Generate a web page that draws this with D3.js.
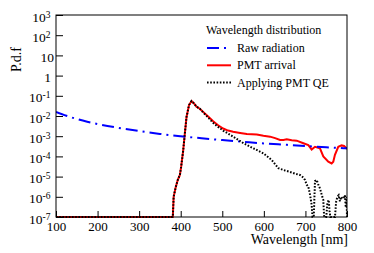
<!DOCTYPE html>
<html>
<head>
<meta charset="utf-8">
<script src="https://cdn.jsdelivr.net/npm/d3@7"></script>
<style>
  body { margin: 0; background: #fff; }
  text { font-family: "Liberation Serif", "Times New Roman", serif; fill: #000; }
</style>
</head>
<body>
<script>
    // x axis
    var xMajor = [100, 200, 300, 400, 500, 600, 700, 800];
    var xMinor = d3.range(100, 801, 20);
    // y axis decades (log10)
    var yExp = [-7, -6, -5, -4, -3, -2, -1, 0, 1, 2, 3];

    // Raw radiation
    var rawWl  = [100, 125, 150, 175, 200, 250, 300, 350, 400, 450, 500, 550, 600, 650, 700, 750, 800];
    var rawVal = [1.6e-2, 1.03e-2, 7.1e-3, 5.2e-3, 4.0e-3, 2.6e-3, 1.8e-3, 1.3e-3, 1.0e-3, 7.9e-4, 6.4e-4, 5.3e-4, 4.4e-4, 3.8e-4, 3.3e-4, 2.8e-4, 2.5e-4];

    // PMT arrival
    var arrWl  = [100, 381, 383, 388, 393, 398, 401, 406, 410, 414, 420, 426, 432, 438, 446, 454, 466, 478, 490, 502, 514, 526, 543, 559, 583, 599, 615, 627, 639, 647, 655, 667, 679, 695, 707, 715, 723, 735, 743, 755, 763, 767, 771, 779, 787, 793, 800];
    var arrVal = [0, 0, 1e-6, 3e-6, 7e-6, 1.2e-5, 3e-5, 2e-4, 1.4e-3, 9e-3, 3.5e-2, 5.5e-2, 4.2e-2, 2.9e-2, 2.3e-2, 1.6e-2, 9.5e-3, 5.5e-3, 3.5e-3, 2.4e-3, 1.9e-3, 1.65e-3, 1.45e-3, 1.3e-3, 1.2e-3, 1.05e-3, 9.5e-4, 8e-4, 6.5e-4, 6.5e-4, 7e-4, 6.3e-4, 6e-4, 4.5e-4, 3.6e-4, 2.2e-4, 3e-4, 2.5e-4, 1e-4, 5.5e-5, 4.5e-5, 5.5e-5, 1.2e-4, 3e-4, 3.5e-4, 3.3e-4, 2.3e-4];

    // Applying PMT QE
    var qeWl  = [100, 381, 383, 388, 393, 398, 401, 406, 410, 414, 420, 426, 432, 438, 446, 454, 466, 478, 490, 502, 514, 526, 551, 575, 599, 619, 635, 651, 663, 675, 687, 695, 699, 703, 707, 711, 715, 717, 720, 723, 727, 731, 735, 739, 743, 745, 750, 753, 756, 758, 760, 771, 774, 777, 780, 783, 786, 789, 792, 795, 797, 799, 800];
    var qeVal = [0, 0, 1e-6, 3e-6, 7e-6, 1.2e-5, 3e-5, 2e-4, 1.4e-3, 9e-3, 3.5e-2, 5.5e-2, 4.2e-2, 2.9e-2, 2.3e-2, 1.5e-2, 8.5e-3, 4.6e-3, 2.9e-3, 1.9e-3, 1.35e-3, 9.5e-4, 4.5e-4, 2.5e-4, 1.4e-4, 6.6e-5, 2.6e-5, 2e-5, 1.7e-5, 1.4e-5, 1.2e-5, 9e-6, 6.8e-6, 4e-6, 3.2e-6, 1.3e-6, 4e-7, 0, 0, 6e-6, 6.8e-6, 4e-6, 2.6e-6, 1.3e-6, 7e-7, 0, 0, 5e-7, 7e-7, 2e-7, 0, 0, 6e-7, 1e-6, 1.2e-6, 6e-7, 1e-6, 8e-7, 9e-7, 1.2e-6, 3e-7, 1e-6, 0];

    var legendNames = ["Raw radiation", "PMT arrival", "Applying PMT QE"];

    function drawChart() {
        var W = 374, H = 253;
        var mLeft = 56, mRight = 347, mTop = 15, mBottom = 217;

        var svg = d3.select("body").append("svg")
            .attr("width", W).attr("height", H);

        var x = d3.scaleLinear().domain([100, 800]).range([mLeft, mRight]);
        var y = d3.scaleLog().domain([1e-7, 1e3]).range([mBottom, mTop]).clamp(true);

        // empty bins sit on the bottom edge
        var yv = function (v) { return y(Math.max(v, 1e-7)); };

        var zip = function (a, b) { return a.map(function (d, i) { return [d, b[i]]; }); };

        svg.append("clipPath").attr("id", "clip")
            .append("rect").attr("x", mLeft).attr("y", mTop - 1)
            .attr("width", mRight - mLeft).attr("height", mBottom - mTop + 2);

        var line = d3.line().x(function (d) { return x(d[0]); }).y(function (d) { return yv(d[1]); });

        var plot = svg.append("g").attr("clip-path", "url(#clip)");

        var styles = [
            { color: "#0000ff", width: 2, dash: "12,5,2,5" },
            { color: "#ff0000", width: 2, dash: null },
            { color: "#000000", width: 2, dash: "1.6,1.6" }
        ];

        plot.append("path").datum(zip(arrWl, arrVal))
            .attr("fill", "none").attr("stroke", styles[1].color).attr("stroke-width", styles[1].width)
            .attr("d", line);
        plot.append("path").datum(zip(rawWl, rawVal))
            .attr("fill", "none").attr("stroke", styles[0].color).attr("stroke-width", styles[0].width)
            .attr("stroke-dasharray", styles[0].dash)
            .attr("d", d3.line().curve(d3.curveMonotoneX).x(function (d) { return x(d[0]); }).y(function (d) { return yv(d[1]); }));
        plot.append("path").datum(zip(qeWl, qeVal))
            .attr("fill", "none").attr("stroke", styles[2].color).attr("stroke-width", styles[2].width)
            .attr("stroke-dasharray", styles[2].dash)
            .attr("d", line);

        // x axis, ticks inside
        var gx = svg.append("g").attr("transform", "translate(0," + mBottom + ")");
        gx.call(d3.axisBottom(x).tickValues(xMinor).tickSize(-3).tickFormat(""));
        gx.call(d3.axisBottom(x).tickValues(xMajor).tickSizeInner(-6).tickSizeOuter(0).tickPadding(4.5).tickFormat(d3.format("d")));
        gx.selectAll("text").attr("font-size", 13).attr("font-family", "Liberation Serif");
        gx.selectAll(".domain").remove();

        // y axis, ticks inside, with superscript labels
        var minorVals = [];
        yExp.forEach(function (e) {
            if (e < 3) for (var k = 2; k <= 9; k++) minorVals.push(k * Math.pow(10, e));
        });
        var gy = svg.append("g").attr("transform", "translate(" + mLeft + ",0)");
        gy.call(d3.axisLeft(y).tickValues(minorVals).tickSize(-4).tickFormat(""));
        gy.call(d3.axisLeft(y).tickValues(yExp.map(function (e) { return Math.pow(10, e); }))
            .tickSizeInner(-7).tickSizeOuter(0).tickFormat(""));
        gy.selectAll(".domain").remove();
        gy.selectAll("line").attr("stroke", "#000");
        gx.selectAll("line").attr("stroke", "#000");

        yExp.forEach(function (e) {
            var t = svg.append("text")
                .attr("y", y(Math.pow(10, e)) + 6.5)
                .attr("text-anchor", "end").attr("font-size", 13.5);
            if (e === 0) { t.attr("x", 51).text("1"); }
            else if (e === 1) { t.attr("x", 54).text("10"); }
            else {
                t.attr("x", 50.5);
                t.append("tspan").text("10");
                t.append("tspan").attr("font-size", 9.5).attr("dy", -4).text(String(e));
            }
        });

        // frame
        svg.append("rect").attr("x", mLeft).attr("y", mTop)
            .attr("width", mRight - mLeft).attr("height", mBottom - mTop)
            .attr("fill", "none").attr("stroke", "#000").attr("stroke-width", 1);

        // axis titles
        svg.append("text").attr("x", 348).attr("y", 244).attr("text-anchor", "end")
            .attr("font-size", 14).text("Wavelength [nm]");
        svg.append("text").attr("transform", "translate(21,47) rotate(-90)")
            .attr("text-anchor", "end").attr("font-size", 14).text("P.d.f");

        // legend
        svg.append("text").attr("x", 206).attr("y", 34).attr("font-size", 12).text("Wavelength distribution");
        var lg = svg.append("g");
        legendNames.forEach(function (name, i) {
            var ly = 48 + i * 17.3;
            lg.append("line").attr("x1", 207).attr("x2", 231).attr("y1", ly).attr("y2", ly)
                .attr("stroke", styles[i].color).attr("stroke-width", styles[i].width)
                .attr("stroke-dasharray", styles[i].dash);
            lg.append("text").attr("x", 237).attr("y", ly + 4).attr("font-size", 12).text(name);
        });
    }

    drawChart();
</script>
</body>
</html>
